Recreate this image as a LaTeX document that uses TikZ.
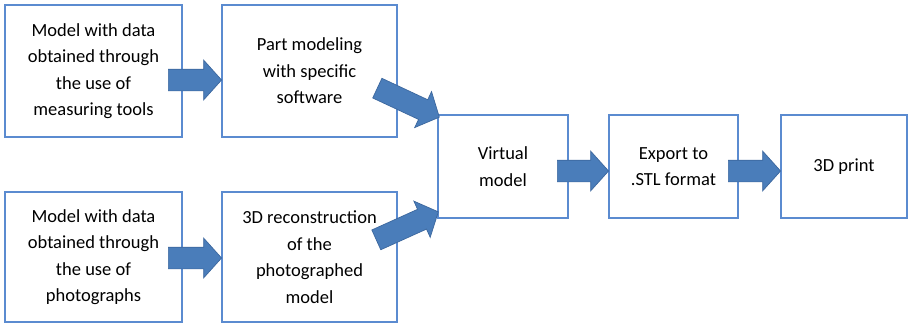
\documentclass[tikz,border=0pt]{standalone}
\usepackage{fontspec}
\setmainfont{Carlito}
\usetikzlibrary{shapes.arrows,calc}
\definecolor{boxline}{HTML}{5B8BD0}
\definecolor{arrfill}{HTML}{4A7DBA}
\definecolor{arrdraw}{HTML}{3C679E}
\tikzset{
  box/.style={draw=boxline, line width=1.6pt, fill=white, align=center,
    inner sep=0pt, font=\fontsize{18.5}{26.5}\selectfont},
  blockarrow/.style={single arrow, fill=arrfill, draw=arrdraw, line width=0.7pt,
    inner xsep=0pt, inner ysep=10.5pt, minimum width=0pt,
    single arrow head extend=9pt, single arrow tip angle=96},
}
\newcommand\blockarr[2]{\path let \p1=($(#2)-(#1)$), \n1={veclen(\x1,\y1)}, \n2={atan2(\y1,\x1)} in
  node[blockarrow, minimum height=\n1, rotate=\n2, anchor=tail] at (#1) {};}
\begin{document}
\begin{tikzpicture}[x=1pt,y=-1pt]
\useasboundingbox[fill=white] (0,0) rectangle (910,324);
\node[box, minimum width=177pt, minimum height=132pt] (a1) at (93.5,71) {Model with data\\obtained through\\the use of\\measuring tools};
\node[box, minimum width=175pt, minimum height=132pt] (b1) at (309.5,71) {Part modeling\\with specific\\software};
\node[box, minimum width=177pt, minimum height=130pt] (a2) at (93.5,257) {Model with data\\obtained through\\the use of\\photographs};
\node[box, minimum width=175pt, minimum height=130pt] (b2) at (309.5,257) {3D reconstruction\\of the\\photographed\\model};
\node[box, minimum width=130pt, minimum height=103pt] (vm) at (503,166.5) {Virtual\\model};
\node[box, minimum width=129pt, minimum height=103pt] (ex) at (673.5,166.5) {Export to\\.STL format};
\node[box, minimum width=126pt, minimum height=103pt] (pr) at (844,166.5) {3D print};
% arrow endpoints
\coordinate (t1) at (168,80);  \coordinate (h1) at (b1.west |- t1);
\coordinate (t2) at (168,258); \coordinate (h2) at (b2.west |- t2);
\coordinate (t3) at (377,88);  \coordinate (h3) at (439,117);
\coordinate (t4) at (376,240); \coordinate (h4) at (438,212);
\coordinate (t5) at (557,171); \coordinate (h5) at (ex.west |- t5);
\coordinate (t6) at (728,171); \coordinate (h6) at (pr.west |- t6);
\blockarr{t1}{h1}
\blockarr{t2}{h2}
\blockarr{t3}{h3}
\blockarr{t4}{h4}
\blockarr{t5}{h5}
\blockarr{t6}{h6}
\end{tikzpicture}
\end{document}
